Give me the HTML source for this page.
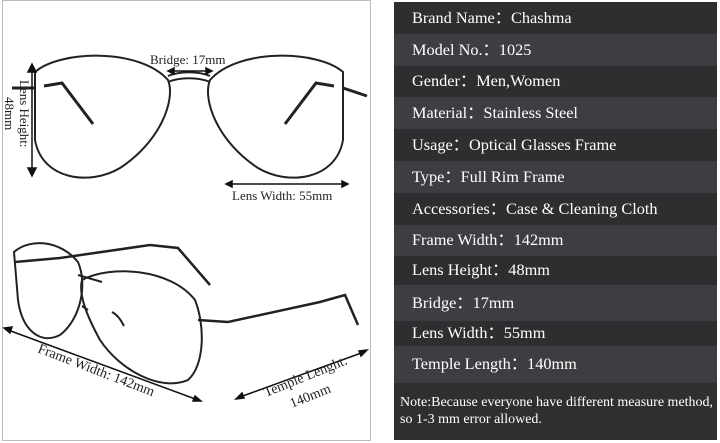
<!DOCTYPE html>
<html><head><meta charset="utf-8"><style>
html,body{margin:0;padding:0;background:#fff;}
body{width:720px;height:443px;position:relative;overflow:hidden;font-family:"Liberation Serif",serif;}
.panel{position:absolute;left:394px;top:2px;width:323px;height:438px;background:#2f2e31;}
.row{position:absolute;left:0;width:323px;color:#fff;font-size:16.3px;line-height:1;padding-left:18px;box-sizing:border-box;display:flex;align-items:center;white-space:nowrap;}
.l{background:#3e3e42;}
.d{background:#2e2d30;}
.note{position:absolute;left:6px;top:392px;color:#fff;font-size:14px;line-height:17px;white-space:nowrap;}
</style></head><body>
<svg width="720" height="443" style="position:absolute;left:0;top:0">
<rect x="2.5" y="0.5" width="368" height="440" fill="#fff" stroke="#bbb"/>
<g fill="none" stroke="#222" stroke-width="2">
<path d="M35,72 C60,50 140,48 168,80 C176,100 160,142 120,168 C90,186 42,180 35,140 Z"/>
<path d="M343,72 C318,50 238,48 210,80 C202,100 218,142 258,168 C288,186 336,180 343,140 Z"/>
<path d="M168,76 C180,71 198,71 210,76" />
<path d="M168,82 C180,77 198,77 210,82" />
<path d="M44,86 L62,83 L93,124" stroke-width="3"/>
<path d="M334,86 L316,83 L285,124" stroke-width="3"/>
<path d="M343,88 L367,96" stroke-width="3"/>
<path d="M12,88 L35,88" stroke-width="3"/>
<path d="M14,252 C30,238 60,240 78,262 C88,285 80,320 60,335 C40,345 22,330 18,300 Z"/>
<path d="M82,280 C110,265 170,268 195,300 C205,325 205,365 188,380 C160,392 120,370 100,340 C88,318 78,295 82,280 Z"/>
<path d="M78,275 L102,282"/>
<path d="M15,262 L60,258 L150,245 L178,248 L210,285" stroke-width="2.5"/>
<path d="M198,320 L228,322 L320,302 L345,295 L358,325" stroke-width="2.5"/>
<path d="M82,306 L88,310" /><path d="M112,312 C118,315 122,322 124,326"/>
</g>
<g stroke="#111" stroke-width="1.5" fill="#111">
<line x1="32" y1="68" x2="32" y2="172"/><path d="M28,72 L32,64 L36,72Z"/><path d="M28,168 L32,176 L36,168Z"/>
<line x1="172" y1="71" x2="208" y2="71"/><path d="M174,68 L168,71 L174,74Z"/><path d="M206,68 L212,71 L206,74Z"/>
<line x1="230" y1="184" x2="344" y2="184"/><path d="M232,181 L226,184 L232,187Z"/><path d="M342,181 L348,184 L342,187Z"/>
<line x1="8" y1="330" x2="198" y2="400"/><path d="M12,327 L4,328 L10,333Z"/><path d="M193,401 L201,401 L195,396Z"/>
<line x1="240" y1="397" x2="364" y2="352"/><path d="M244,398 L236,399 L242,393Z"/><path d="M359,351 L367,350 L361,356Z"/>
</g>
<g font-family="Liberation Serif,serif" font-size="13" fill="#222">
<text x="150" y="64">Bridge: 17mm</text>
<text x="232" y="200">Lens Width: 55mm</text>
<text transform="translate(20,80) rotate(90)">Lens Height:</text>
<text transform="translate(5,97) rotate(90)">48mm</text>
<text transform="translate(37,352) rotate(21)" font-size="14">Frame Width:  142mm</text>
<text transform="translate(266,397) rotate(-22)" font-size="14">Temple Lenght:</text>
<text transform="translate(292,408) rotate(-22)" font-size="14">140mm</text>
</g>
</svg>
<div class="panel">
<div class="row d" style="top:0;height:32px">Brand Name：Chashma</div>
<div class="row l" style="top:32px;height:32px">Model No.：1025</div>
<div class="row d" style="top:64px;height:31px">Gender：Men,Women</div>
<div class="row l" style="top:95px;height:32px">Material：Stainless Steel</div>
<div class="row d" style="top:127px;height:32px">Usage：Optical Glasses Frame</div>
<div class="row l" style="top:159px;height:32px">Type：Full Rim Frame</div>
<div class="row d" style="top:191px;height:32px">Accessories：Case &amp; Cleaning Cloth</div>
<div class="row l" style="top:223px;height:31px">Frame Width：142mm</div>
<div class="row d" style="top:254px;height:29px">Lens Height：48mm</div>
<div class="row l" style="top:283px;height:36px">Bridge：17mm</div>
<div class="row d" style="top:319px;height:25px">Lens Width：55mm</div>
<div class="row l" style="top:344px;height:37px">Temple Length：140mm</div>
<div class="note">Note:Because everyone have different measure method,<br>so 1-3 mm error allowed.</div>
</div>
</body></html>
